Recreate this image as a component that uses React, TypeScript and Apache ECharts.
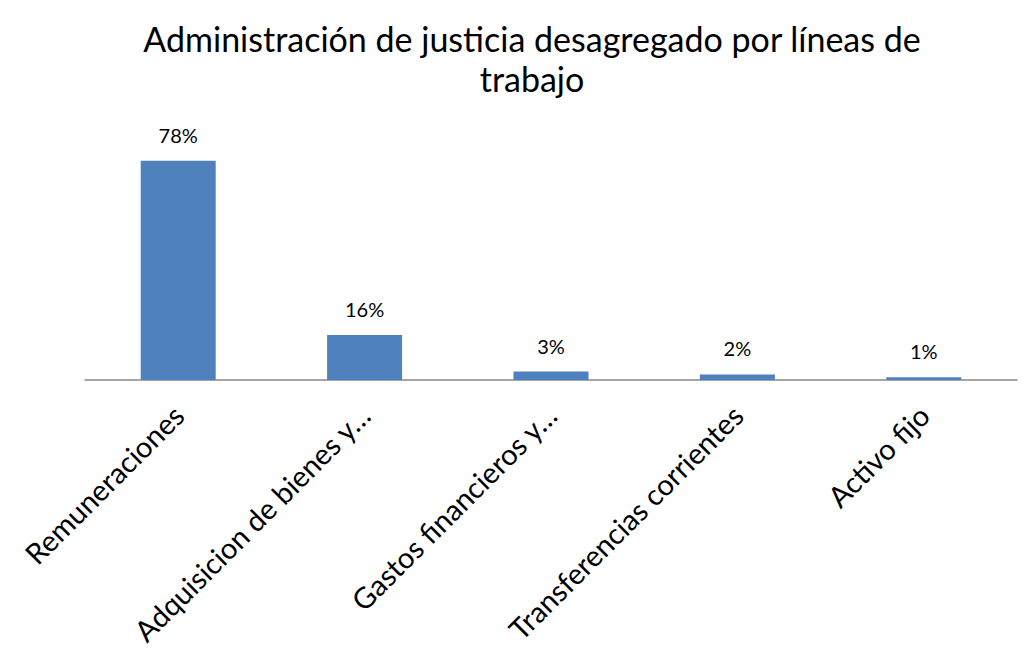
import React, { useEffect, useRef } from "react";
import * as echarts from "echarts";

const categories = [
  "Remuneraciones",
  "Adquisicion de bienes y…",
  "Gastos financieros y…",
  "Transferencias corrientes",
  "Activo fijo",
];
const values = [78, 16, 3, 2, 1];
const titleLines = ["Administración de justicia desagregado por líneas de", "trabajo"];

const FONT = "Lato, 'Open Sans', sans-serif";

export default function App() {
  const ref = useRef<HTMLDivElement>(null);
  useEffect(() => {
    if (!ref.current) return;
    const chart = echarts.init(ref.current, undefined, { renderer: "svg" });
    chart.setOption({
      animation: false,
      backgroundColor: "#ffffff",
      graphic: [
        {
          type: "text",
          x: 532,
          y: 38,
          style: {
            text: titleLines[0],
            font: `34px ${FONT}`,
            fill: "#000",
            textAlign: "center",
            textVerticalAlign: "middle",
          },
        },
        {
          type: "text",
          x: 532,
          y: 78,
          style: {
            text: titleLines[1],
            font: `34px ${FONT}`,
            fill: "#000",
            textAlign: "center",
            textVerticalAlign: "middle",
          },
        },
      ],
      grid: { left: 85, right: 8, top: 127, bottom: 273, containLabel: false },
      xAxis: {
        type: "category",
        data: categories,
        axisLine: { show: true, lineStyle: { color: "#888888", width: 1.5 } },
        axisTick: { show: false },
        axisLabel: {
          rotate: 45,
          interval: 0,
          margin: 30,
          fontSize: 29,
          fontFamily: FONT,
          color: "#000",
        },
      },
      yAxis: {
        type: "value",
        min: 0,
        max: 90,
        show: false,
        splitLine: { show: false },
      },
      series: [
        {
          type: "bar",
          data: values,
          barWidth: 75,
          itemStyle: { color: "#4F81BD" },
          label: {
            show: true,
            position: "top",
            distance: 16,
            formatter: "{c}%",
            fontSize: 20,
            fontFamily: FONT,
            color: "#000",
          },
        },
      ],
    });
    return () => chart.dispose();
  }, []);
  return (
    <div
      ref={ref}
      style={{ position: "fixed", left: 0, top: 0, width: 1025, height: 653 }}
    />
  );
}
